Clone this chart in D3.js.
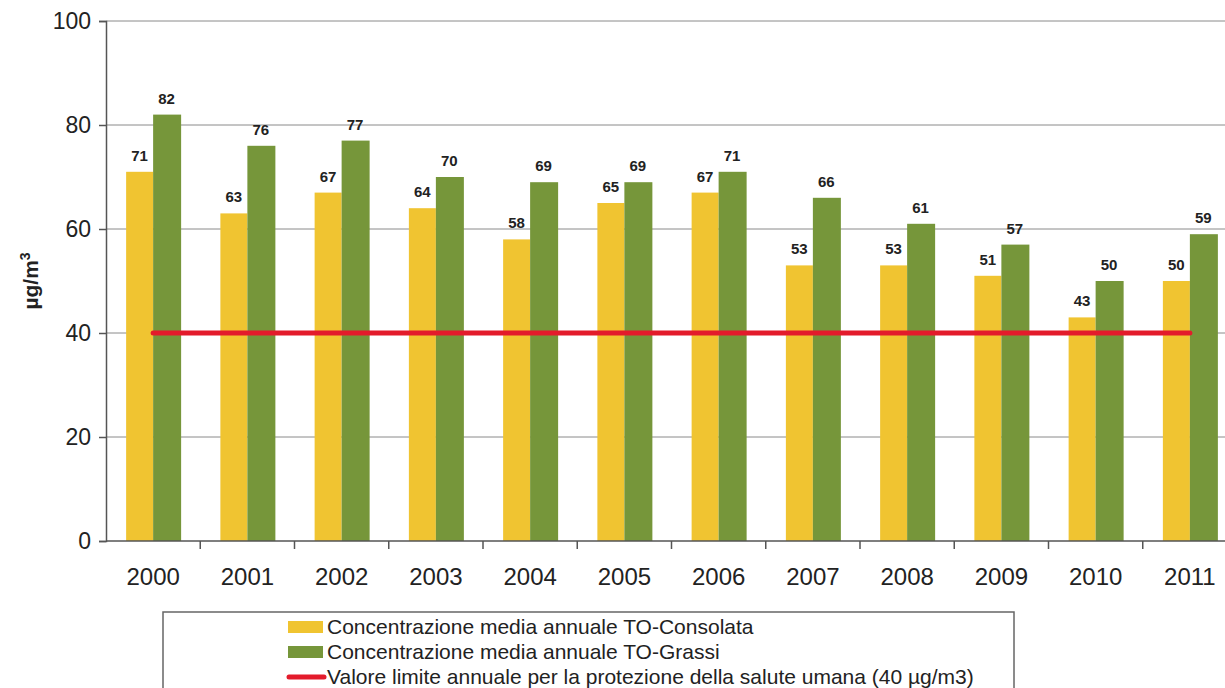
<!DOCTYPE html>
<html>
<head>
<meta charset="utf-8">
<script src="https://cdn.jsdelivr.net/npm/d3@7"></script>
<style>
  body { margin: 0; background: #fff; }
  svg { font-family: "Liberation Sans", Arial, Helvetica, sans-serif; }
</style>
</head>
<body>
<svg id="chart" width="1225" height="688"></svg>
<script>
// chart data
var years = ["2000", "2001", "2002", "2003", "2004", "2005", "2006", "2007", "2008", "2009", "2010", "2011"];
var consolata = [71, 63, 67, 64, 58, 65, 67, 53, 53, 51, 43, 50];
var grassi = [82, 76, 77, 70, 69, 69, 71, 66, 61, 57, 50, 59];
var limitValue = 40;
var yTicks = [0, 20, 40, 60, 80, 100];
var seriesNames = [
    "Concentrazione media annuale TO-Consolata",
    "Concentrazione media annuale TO-Grassi",
    "Valore limite annuale per la protezione della salute umana (40 \u00b5g/m3)"
];

var svg = d3.select("#chart");
var plotLeft = 106, plotTop = 21, plotBottom = 541;
var step = 94.25;
var plotRight = plotLeft + step * years.length;

var x = d3.scaleBand().domain(years).range([plotLeft, plotRight]).paddingInner(0).paddingOuter(0);
var y = d3.scaleLinear().domain([0, 100]).range([plotBottom, plotTop]);
var barW = 27;

var yellow = "#f0c431", green = "#76963a", red = "#e31b2b";

// gridlines
svg.append("g").selectAll("line").data(yTicks.filter(d => d > 0)).enter().append("line")
    .attr("x1", plotLeft).attr("x2", 1225)
    .attr("y1", d => y(d)).attr("y2", d => y(d))
    .attr("stroke", "#8a8a8a").attr("stroke-width", 1);

// bars
var g = svg.append("g");
years.forEach(function (yr, i) {
    var cx = x(yr) + x.bandwidth() / 2;
    g.append("rect").attr("x", cx - barW).attr("y", y(consolata[i]))
        .attr("width", barW).attr("height", plotBottom - y(consolata[i])).attr("fill", yellow);
    g.append("rect").attr("x", cx).attr("y", y(grassi[i]))
        .attr("width", barW + 1).attr("height", plotBottom - y(grassi[i])).attr("fill", green);
    g.append("text").attr("x", cx - barW / 2).attr("y", y(consolata[i]) - 11)
        .attr("text-anchor", "middle").attr("font-size", 15).attr("font-weight", "bold")
        .attr("fill", "#222").text(consolata[i]);
    g.append("text").attr("x", cx + barW / 2).attr("y", y(grassi[i]) - 11)
        .attr("text-anchor", "middle").attr("font-size", 15).attr("font-weight", "bold")
        .attr("fill", "#222").text(grassi[i]);
});

// limit line
svg.append("path")
    .attr("d", d3.line().x(d => x(d) + x.bandwidth() / 2).y(() => y(limitValue))(years))
    .attr("fill", "none").attr("stroke", red).attr("stroke-width", 5).attr("stroke-linecap", "round");

// y axis
var yAxis = svg.append("g").attr("transform", "translate(" + plotLeft + ",0)")
    .call(d3.axisLeft(y).tickValues(yTicks).tickSize(7).tickPadding(8));
yAxis.select(".domain").attr("stroke", "#555").attr("stroke-width", 1.5);
yAxis.selectAll(".tick line").attr("stroke", "#555").attr("stroke-width", 1.5);
yAxis.selectAll("text").attr("font-size", 23).attr("fill", "#222")
    .attr("font-family", "Liberation Sans, Arial, sans-serif");

// x axis
var xAxis = svg.append("g").attr("transform", "translate(0," + plotBottom + ")")
    .call(d3.axisBottom(x).tickSize(0).tickPadding(0));
xAxis.select(".domain").attr("stroke", "#555").attr("stroke-width", 1.5)
    .attr("d", "M" + plotLeft + ",0H1225");
xAxis.selectAll(".tick line").remove();
xAxis.selectAll("text").attr("font-size", 24).attr("fill", "#222").attr("dy", 0).attr("y", 44)
    .attr("font-family", "Liberation Sans, Arial, sans-serif");
// boundary ticks between categories
xAxis.selectAll("line.sep").data(years.slice(1)).enter().append("line")
    .attr("class", "sep")
    .attr("x1", d => x(d)).attr("x2", d => x(d))
    .attr("y1", 0).attr("y2", 8)
    .attr("stroke", "#555").attr("stroke-width", 1.5);

// y axis title
svg.append("text")
    .attr("transform", "translate(38," + ((plotTop + plotBottom) / 2) + ") rotate(-90)")
    .attr("text-anchor", "middle").attr("font-size", 21).attr("font-weight", "bold").attr("fill", "#222")
    .html("\u00b5g/m<tspan dy='-8' font-size='14'>3</tspan>");

// legend
var lg = svg.append("g");
lg.append("rect").attr("x", 163).attr("y", 612).attr("width", 851).attr("height", 100)
    .attr("fill", "#fff").attr("stroke", "#666").attr("stroke-width", 1.5);
var rowY = [627, 652, 677];
seriesNames.forEach(function (name, i) {
    if (i < 2) {
        lg.append("rect").attr("x", 288).attr("y", rowY[i] - 6).attr("width", 35).attr("height", 12)
            .attr("fill", i === 0 ? yellow : green);
    } else {
        lg.append("line").attr("x1", 289).attr("x2", 324).attr("y1", rowY[i]).attr("y2", rowY[i])
            .attr("stroke", red).attr("stroke-width", 5).attr("stroke-linecap", "round");
    }
    lg.append("text").attr("x", 327).attr("y", rowY[i] + 7).attr("font-size", 21).attr("fill", "#222").text(name);
});
</script>
</body>
</html>
